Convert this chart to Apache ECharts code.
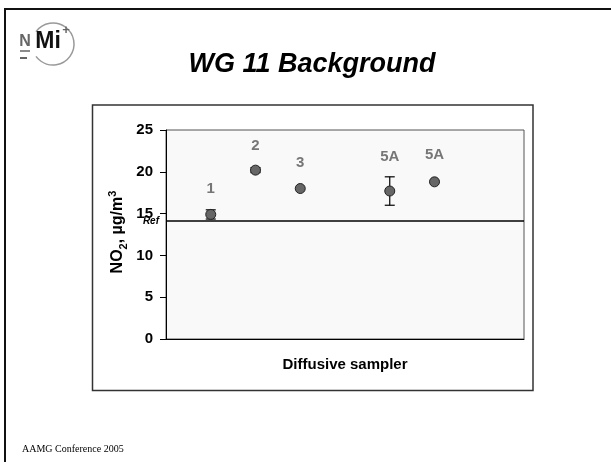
<!DOCTYPE html>
<html>
<head>
<meta charset="utf-8">
<script src="https://cdn.jsdelivr.net/npm/echarts@6/dist/echarts.min.js"></script>
<style>html,body{margin:0;padding:0;background:#fff}#c{width:611px;height:462px}</style>
</head>
<body>
<div id="c"></div>
<script>
// ---- data ----
var samplerX = [1, 2, 3, 5, 6];
var samplerLabels = ['1', '2', '3', '5A', '5A'];
var no2Values = [14.9, 20.2, 18.0, 17.7, 18.8];
var no2Errors = [0.55, 0.3, 0, 1.7, 0];
var labelY = [17.9, 23.1, 21.1, 21.8, 22.0];
var refValue = 14.1;
var yTicks = [0, 5, 10, 15, 20, 25];

var FONT = 'Liberation Sans, Arial, sans-serif';
var chart = echarts.init(document.getElementById('c'), null, {renderer: 'canvas'});

var pointData = samplerX.map(function (x, i) { return [x, no2Values[i]]; });
var errData = samplerX.map(function (x, i) { return [x, no2Values[i], no2Errors[i]]; });
var labelData = samplerX.map(function (x, i) { return [x, labelY[i], samplerLabels[i]]; });

var option = {
  animation: false,
  backgroundColor: '#ffffff',
  grid: {
    left: 166, right: 87, top: 130, bottom: 123,
    show: true, backgroundColor: '#f9f9f9', borderColor: '#555', borderWidth: 1
  },
  xAxis: {
    type: 'value', min: 0, max: 8,
    axisLine: {show: true, onZero: false, lineStyle: {color: '#000', width: 1}},
    axisTick: {show: false}, axisLabel: {show: false}, splitLine: {show: false},
    name: 'Diffusive sampler', nameLocation: 'middle', nameGap: 18,
    nameTextStyle: {fontFamily: FONT, fontWeight: 'bold', fontSize: 15, color: '#000'}
  },
  yAxis: {
    type: 'value', min: yTicks[0], max: yTicks[yTicks.length - 1], interval: 5,
    axisLine: {show: true, lineStyle: {color: '#000', width: 1}},
    axisTick: {show: true, length: 6, lineStyle: {color: '#000'}},
    axisLabel: {fontFamily: FONT, fontWeight: 'bold', fontSize: 15, color: '#000', margin: 13},
    splitLine: {show: false}
  },
  series: [
    {
      type: 'custom',
      z: 3,
      data: errData,
      renderItem: function (params, api) {
        var x = api.value(0), y = api.value(1), e = api.value(2);
        if (!e) return null;
        var top = api.coord([x, y + e]);
        var bot = api.coord([x, y - e]);
        var w = 5;
        var st = {stroke: '#000', lineWidth: 1.2};
        return {
          type: 'group',
          children: [
            {type: 'line', shape: {x1: top[0], y1: top[1], x2: bot[0], y2: bot[1]}, style: st},
            {type: 'line', shape: {x1: top[0] - w, y1: top[1], x2: top[0] + w, y2: top[1]}, style: st},
            {type: 'line', shape: {x1: bot[0] - w, y1: bot[1], x2: bot[0] + w, y2: bot[1]}, style: st}
          ]
        };
      }
    },
    {
      type: 'scatter',
      z: 4,
      data: pointData,
      symbol: 'circle',
      symbolSize: 10,
      itemStyle: {color: '#666', borderColor: '#222', borderWidth: 1, opacity: 1},
      markLine: {
        silent: true,
        symbol: 'none',
        lineStyle: {color: '#000', width: 1.5, type: 'solid'},
        label: {show: true, position: 'start', formatter: 'Ref', distance: 7,
                fontFamily: FONT, fontStyle: 'italic', fontWeight: 'bold', fontSize: 10, color: '#000'},
        data: [{yAxis: refValue}]
      }
    },
    {
      type: 'scatter',
      z: 5,
      data: labelData,
      symbolSize: 0,
      label: {
        show: true, position: 'inside',
        formatter: function (p) { return p.data[2]; },
        fontFamily: FONT, fontWeight: 'bold', fontSize: 15, color: '#555'
      }
    }
  ],
  graphic: [
    {type: 'rect', shape: {x: 5, y: 9, width: 700, height: 600}, style: {fill: null, stroke: '#111', lineWidth: 2}, z: 0, silent: true},
    {type: 'rect', shape: {x: 92.5, y: 105, width: 440.5, height: 285.5}, style: {fill: null, stroke: '#333', lineWidth: 1.5}, z: 0, silent: true},
    {type: 'text', x: 312, y: 65, style: {text: 'WG 11 Background', align: 'center', verticalAlign: 'middle',
      font: 'italic bold 27px ' + FONT, fill: '#000'}},
    {type: 'text', x: 118, y: 232, rotation: Math.PI / 2,
      style: {
        text: '{a|NO}{sub|2}{a|, µg/m}{sup|3}',
        align: 'center', verticalAlign: 'middle',
        rich: {
          a: {fontFamily: FONT, fontWeight: 'bold', fontSize: 16, lineHeight: 22, fill: '#000'},
          sub: {fontFamily: FONT, fontWeight: 'bold', fontSize: 11, lineHeight: 12, verticalAlign: 'bottom', fill: '#000'},
          sup: {fontFamily: FONT, fontWeight: 'bold', fontSize: 11, lineHeight: 12, verticalAlign: 'top', fill: '#000'}
        }
      }},
    {type: 'text', x: 22, y: 449, style: {text: 'AAMG Conference 2005', align: 'left', verticalAlign: 'middle',
      font: '10px Liberation Serif, Times New Roman, serif', fill: '#000'}},
    // logo
    {type: 'arc', shape: {cx: 53, cy: 44, r: 21, startAngle: -0.8 * Math.PI, endAngle: 0.8 * Math.PI, clockwise: true},
      style: {fill: null, stroke: '#999', lineWidth: 1.5}},
    {type: 'text', x: 25, y: 42, style: {text: 'N', align: 'center', verticalAlign: 'middle', font: 'bold 16px ' + FONT, fill: '#666'}},
    {type: 'line', shape: {x1: 20, y1: 51, x2: 30, y2: 51}, style: {stroke: '#666', lineWidth: 1.5}},
    {type: 'line', shape: {x1: 20, y1: 58, x2: 27, y2: 58}, style: {stroke: '#333', lineWidth: 1.5}},
    {type: 'text', x: 48, y: 42, style: {text: 'Mi', align: 'center', verticalAlign: 'middle', font: 'bold 23px ' + FONT, fill: '#111'}},
    {type: 'text', x: 66, y: 30, style: {text: '+', align: 'center', verticalAlign: 'middle', font: 'bold 13px ' + FONT, fill: '#666'}}
  ]
};
chart.setOption(option);
</script>
</body>
</html>
